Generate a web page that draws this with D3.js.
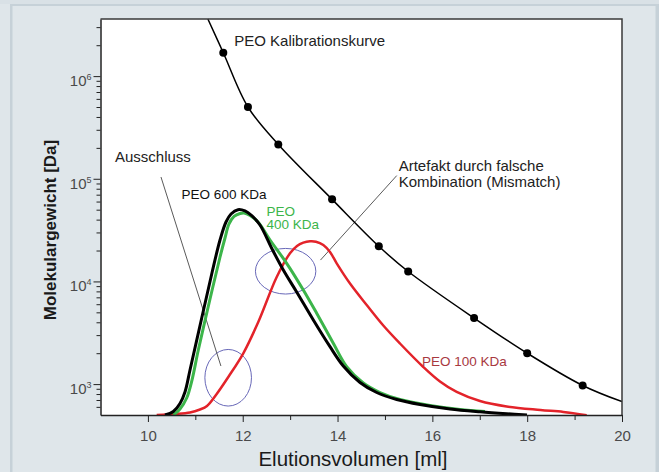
<!DOCTYPE html>
<html><head><meta charset="utf-8">
<script src="https://cdn.jsdelivr.net/npm/d3@7"></script>
<style>
body{margin:0;background:#dfe6ea;}
svg{display:block;font-family:"Liberation Sans",Arial,sans-serif;}
</style>
</head><body>
<svg id="c" width="659" height="472"></svg>
<script>
// ---------- data ----------
const xTicksMajor = [10, 12, 14, 16, 18, 20];
const xTicksMinor = [11, 13, 15, 17, 19];
const yTicksMajor = [1e3, 1e4, 1e5, 1e6];
const yTickExponents = ["3", "4", "5", "6"];

// calibration curve: measured dots
const calibDotX = [11.59, 12.11, 12.75, 13.885, 14.87, 15.49, 16.88, 18.0, 19.17];
const calibDotY = [1690000, 500000, 216000, 63000, 22000, 12500, 4400, 2000, 970];
// where the fitted curve leaves the plot (top and right edge)
const calibEndX = [11.265, 20];
const calibEndY = [3600000, 675];

// PEO 600 KDa (black)
const peo600X = [10.36, 10.536, 10.677, 10.782, 10.888, 11.135, 11.346, 11.521, 11.647, 11.753, 11.900, 12.048, 12.196, 12.364, 12.611, 12.856, 13.138, 13.489, 13.841, 14.121, 14.474, 14.826, 15.248, 15.739, 16.372, 17.005, 17.568, 17.996];
const peo600Y = [500, 541, 647, 838, 1372, 4405, 11820, 25330, 37930, 45400, 49980, 48550, 43400, 35460, 21030, 12930, 7895, 4211, 2314, 1501, 1037, 828, 708, 633, 572, 537, 514, 500];

// PEO 400 KDa (green)
const peo400X = [10.536, 10.677, 10.818, 10.930, 11.063, 11.310, 11.521, 11.626, 11.711, 11.817, 11.943, 12.027, 12.154, 12.323, 12.576, 12.927, 13.278, 13.560, 13.910, 14.193, 14.543, 14.895, 15.317, 15.950, 16.583, 17.110];
const peo400Y = [500, 572, 732, 1096, 2149, 6745, 17300, 26500, 36270, 42930, 45900, 46430, 43880, 37930, 25330, 15020, 8253, 4893, 2497, 1477, 1025, 828, 708, 619, 566, 541];

// PEO 100 KDa (red)
const peo100X = [10.185, 10.571, 10.888, 11.099, 11.246, 11.451, 11.696, 12.012, 12.328, 12.717, 12.997, 13.145, 13.278, 13.419, 13.545, 13.700, 13.841, 13.982, 14.263, 14.615, 14.965, 15.317, 15.809, 16.161, 16.513, 17.005, 17.568, 18.281, 18.762, 19.255];
const peo100Y = [500, 511, 529, 566, 612, 801, 1173, 1995, 4026, 11050, 18800, 22200, 23850, 24600, 24380, 22640, 19350, 15020, 9548, 5894, 3722, 2486, 1468, 1060, 838, 684, 605, 559, 535, 497];

// annotation ellipses (centres in data units)
const ellipseX = [11.693, 12.905];
const ellipseY = [1153, 12570];

// annotation pointer lines (data units)
const pointerX1 = [10.276, 15.249];
const pointerY1 = [104000, 107400];
const pointerX2 = [11.54, 13.64];
const pointerY2 = [1500, 16150];

// annotation texts (anchor in data units)
const labelText = [["PEO Kalibrationskurve"], ["Ausschluss"], ["Artefakt durch falsche", "Kombination (Mismatch)"], ["PEO 600 KDa"], ["PEO", "400 KDa"], ["PEO 100 KDa"]];
const labelX = [11.82, 9.306, 15.29, 10.711, 12.503, 15.782];
const labelY = [1970000, 144500, 119700, 63400, 43650, 1510];

// ---------- layout / style ----------
const W = 659, H = 472;
const L = 100.5, R = 622, T = 19, B = 415;
const col = {bg:"#dfe6ea", frame:"#c6d1d8", black:"#000", green:"#3cb54a", red:"#e3232a",
             ell:"#6868b8", ptr:"#5a5a5a", tick:"#4a4a4a", lab100:"#a8383f"};
const labelColor = ["#222", "#222", "#222", "#111", col.green, col.lab100];
const labelSize = [15, 15, 15, 13.5, 13.5, 13.5];
const labelLH = [0, 0, 16.5, 0, 13.6, 0];
const ellRx = [23.3, 30.2], ellRy = [28.3, 22.8];

const svg = d3.select("#c");
svg.append("rect").attr("width", W).attr("height", H).attr("fill", col.bg);
svg.append("rect").attr("x", 0).attr("y", 0).attr("width", W).attr("height", 4).attr("fill", "#d9e1e6");
svg.append("rect").attr("x", 10).attr("y", 4).attr("width", 648).attr("height", 2).attr("fill", col.frame);
svg.append("rect").attr("x", 10).attr("y", 4).attr("width", 2.5).attr("height", H).attr("fill", col.frame);
svg.append("rect").attr("x", 655.5).attr("y", 4).attr("width", 3.5).attr("height", H).attr("fill", col.frame);

const x = d3.scaleLinear().domain([9, 20]).range([L, R]);
const y = d3.scaleLog().domain([500, 3600000]).range([B, T]);

svg.append("rect").attr("x", L).attr("y", T).attr("width", R - L).attr("height", B - T).attr("fill", "#fff");

svg.append("clipPath").attr("id", "clip").append("rect")
  .attr("x", L).attr("y", T - 1).attr("width", R - L).attr("height", B - T + 1.5);

const g = svg.append("g").attr("clip-path", "url(#clip)");

// ellipses
g.selectAll("ellipse").data(ellipseX).join("ellipse")
  .attr("cx", (d, i) => x(d)).attr("cy", (d, i) => y(ellipseY[i]))
  .attr("rx", (d, i) => ellRx[i]).attr("ry", (d, i) => ellRy[i])
  .attr("fill", "none").attr("stroke", col.ell).attr("stroke-width", 1);

// pointer lines
g.selectAll("line.ptr").data(pointerX1).join("line").attr("class", "ptr")
  .attr("x1", d => x(d)).attr("y1", (d, i) => y(pointerY1[i]))
  .attr("x2", (d, i) => x(pointerX2[i])).attr("y2", (d, i) => y(pointerY2[i]))
  .attr("stroke", col.ptr).attr("stroke-width", 1);

const line = d3.line().x(d => x(d[0])).y(d => y(d[1])).curve(d3.curveCatmullRom.alpha(0.5));
const zip = (a, b) => a.map((v, i) => [v, b[i]]);

// calibration curve
const calibPts = zip(calibEndX, calibEndY).concat(zip(calibDotX, calibDotY)).sort((a, b) => a[0] - b[0]);
g.append("path").attr("d", line(calibPts)).attr("fill", "none").attr("stroke", "#000").attr("stroke-width", 1.5);
g.selectAll("circle").data(zip(calibDotX, calibDotY)).join("circle")
  .attr("cx", d => x(d[0])).attr("cy", d => y(d[1])).attr("r", 4).attr("fill", "#000");

// peaks
g.append("path").attr("d", line(zip(peo100X, peo100Y))).attr("fill", "none").attr("stroke", col.red).attr("stroke-width", 2.5);
g.append("path").attr("d", line(zip(peo400X, peo400Y))).attr("fill", "none").attr("stroke", col.green).attr("stroke-width", 3);
g.append("path").attr("d", line(zip(peo600X, peo600Y))).attr("fill", "none").attr("stroke", col.black).attr("stroke-width", 3);

// plot frame (top/right)
svg.append("path").attr("d", `M${L},${T}H${R}V${B}`).attr("fill", "none").attr("stroke", "#3a3a3a").attr("stroke-width", 1.5);

// x axis
const xa = svg.append("g").attr("transform", `translate(0,${B})`);
xa.call(d3.axisBottom(x).tickValues(xTicksMajor).tickSize(7).tickPadding(8).tickSizeOuter(0).tickFormat(d3.format("d")));
const xm = svg.append("g").attr("transform", `translate(0,${B})`);
xm.call(d3.axisBottom(x).tickValues(xTicksMinor).tickSize(5).tickSizeOuter(0).tickFormat(""));
xm.select(".domain").remove();
[xa, xm].forEach(a => { a.selectAll("line").attr("stroke", "#222"); });
xa.select(".domain").attr("stroke", "#222").attr("stroke-width", 1.5);
xa.selectAll("text").attr("font-size", 15).attr("fill", col.tick).attr("font-family", "Liberation Sans, Arial, sans-serif");

// y axis
const yMinor = [];
[100, 1000, 10000, 100000, 1000000].forEach(p => { for (let k = 2; k <= 9; k++) { const v = k * p; if (v > 500 && v < 3600000) yMinor.push(v); } });
const ya = svg.append("g").attr("transform", `translate(${L},0)`);
ya.call(d3.axisLeft(y).tickValues(yTicksMajor).tickSize(7).tickSizeOuter(0).tickFormat(""));
const ym = svg.append("g").attr("transform", `translate(${L},0)`);
ym.call(d3.axisLeft(y).tickValues(yMinor).tickSize(4).tickSizeOuter(0).tickFormat(""));
ym.select(".domain").remove();
[ya, ym].forEach(a => { a.selectAll("line").attr("stroke", "#222"); });
ya.select(".domain").attr("stroke", "#222").attr("stroke-width", 1.5);

const yl = svg.append("g");
yTicksMajor.forEach((v, i) => {
  const t = yl.append("text").attr("x", L - 9).attr("y", y(v) + 10).attr("text-anchor", "end")
    .attr("fill", col.tick).attr("font-size", 15);
  t.append("tspan").text("10");
  t.append("tspan").attr("font-size", 9).attr("dy", -6).text(yTickExponents[i]);
});

// axis titles
svg.append("text").attr("x", 353).attr("y", 466).attr("text-anchor", "middle")
  .attr("font-size", 20.5).attr("fill", "#1a1a1a").text("Elutionsvolumen [ml]");
svg.append("text").attr("transform", "translate(56,230) rotate(-90)").attr("text-anchor", "middle")
  .attr("font-size", 17).attr("font-weight", "bold").attr("fill", "#1a1a1a").text("Molekulargewicht [Da]");

// annotation labels
labelText.forEach((lines, i) => {
  const t = svg.append("text").attr("x", x(labelX[i])).attr("y", y(labelY[i]))
    .attr("font-size", labelSize[i]).attr("fill", labelColor[i]);
  lines.forEach((s, j) => {
    t.append("tspan").attr("x", x(labelX[i])).attr("dy", j === 0 ? 0 : labelLH[i]).text(s);
  });
});
</script>
</body></html>
